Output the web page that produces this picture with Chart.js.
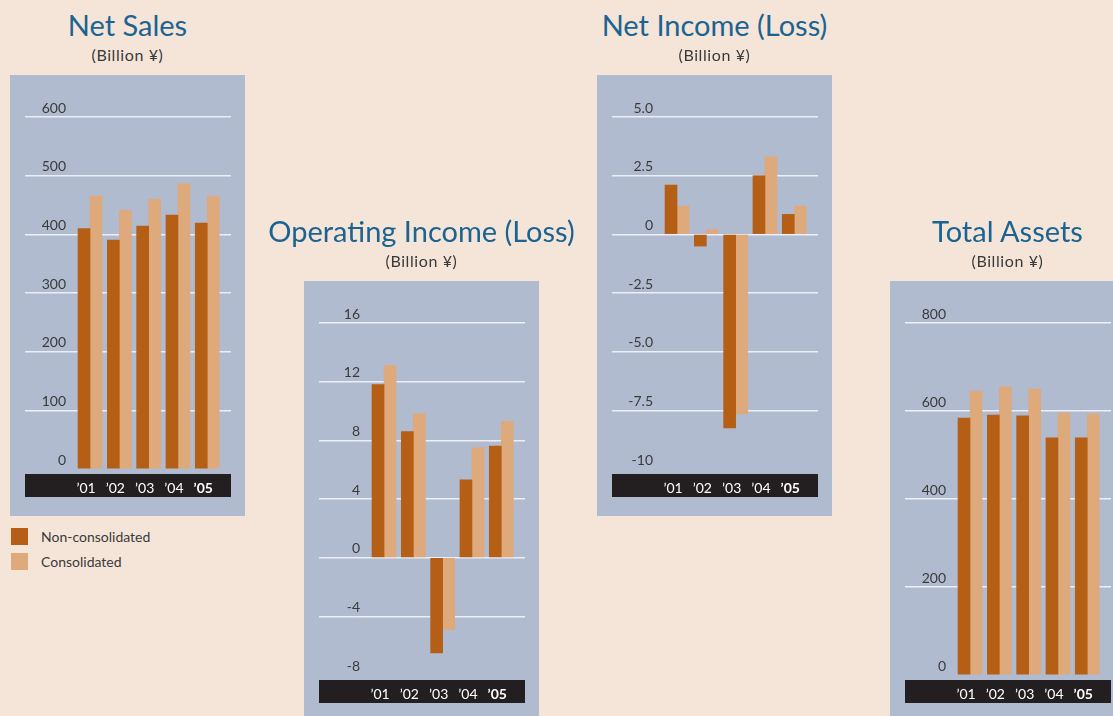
<!DOCTYPE html>
<html>
<head>
<meta charset="utf-8">
<script src="https://cdn.jsdelivr.net/npm/chart.js@4.4.1/dist/chart.umd.min.js"></script>
<style>
  body { margin: 0; width: 1113px; height: 716px; overflow: hidden; background: #f5e5d8; position: relative; font-family: Lato, sans-serif; }
  .panel { position: absolute; width: 235px; height: 441px; }
  .title { position: absolute; left: -80px; width: 395px; top: -68px; line-height: 36px; text-align: center; color: #1b6391; font-size: 29px; white-space: nowrap; }
  .unit { position: absolute; left: 0; width: 235px; top: -30px; line-height: 20px; text-align: center; color: #3a3a3a; font-size: 16px; letter-spacing: 0.6px; }
  canvas { display: block; background: #b0bbcf; }
  .legend { position: absolute; left: 11px; font-size: 14px; color: #3a3a3a; line-height: 17px; }
  .legend span { display: inline-block; width: 17px; height: 17px; vertical-align: top; margin-right: 13px; }
</style>
</head>
<body>

<div class="panel" style="left:10px; top:75px;">
  <div class="title">Net Sales</div>
  <div class="unit">(Billion ¥)</div>
  <canvas id="sales" width="235" height="441"></canvas>
</div>
<div class="panel" style="left:304px; top:281px;">
  <div class="title">Operating Income (Loss)</div>
  <div class="unit">(Billion ¥)</div>
  <canvas id="opIncome" width="235" height="441"></canvas>
</div>
<div class="panel" style="left:597px; top:75px;">
  <div class="title">Net Income (Loss)</div>
  <div class="unit">(Billion ¥)</div>
  <canvas id="netIncome" width="235" height="441"></canvas>
</div>
<div class="panel" style="left:890px; top:281px;">
  <div class="title">Total Assets</div>
  <div class="unit">(Billion ¥)</div>
  <canvas id="assets" width="235" height="441"></canvas>
</div>

<div class="legend" style="top:528px;"><span style="background:#b45f15"></span>Non-consolidated</div>
<div class="legend" style="top:553px;"><span style="background:#dea97b"></span>Consolidated</div>

<script>
const years = ["\u201901", "\u201902", "\u201903", "\u201904", "\u201905"];

const salesNon = [410, 390, 414, 433, 419];
const salesCon = [465, 441, 460, 486, 465];
const salesTicks = [0, 100, 200, 300, 400, 500, 600];
const salesLabels = ["0", "100", "200", "300", "400", "500", "600"];

const opNon = [11.8, 8.6, -6.5, 5.3, 7.6];
const opCon = [13.1, 9.8, -4.9, 7.5, 9.3];
const opTicks = [-8, -4, 0, 4, 8, 12, 16];
const opLabels = ["-8", "-4", "0", "4", "8", "12", "16"];

const niNon = [2.1, -0.5, -8.25, 2.5, 0.85];
const niCon = [1.2, 0.2, -7.65, 3.3, 1.2];
const niTicks = [-10, -7.5, -5, -2.5, 0, 2.5, 5];
const niLabels = ["-10", "-7.5", "-5.0", "-2.5", "0", "2.5", "5.0"];

const assetsNon = [584, 591, 589, 539, 539];
const assetsCon = [645, 655, 650, 595, 593];
const assetsTicks = [0, 200, 400, 600, 800];
const assetsLabels = ["0", "200", "400", "600", "800"];

const darkColor = "#b45f15";
const lightColor = "#dea97b";

// black strip behind the year labels
const bandPlugin = {
    id: "band",
    beforeDraw(chart) {
        const {ctx, chartArea, scales} = chart;
        ctx.save();
        ctx.fillStyle = "#231f20";
        ctx.fillRect(scales.y.left, chartArea.bottom + 5, chartArea.right - scales.y.left, 23);
        ctx.restore();
    }
};

function makeChart(id, tickValues, tickLabels, nonData, conData) {
    new Chart(document.getElementById(id), {
        type: "bar",
        data: {
            datasets: [
                {
                    label: "Non-consolidated",
                    data: nonData.map((v, i) => ({x: i + 1, y: v})),
                    backgroundColor: darkColor,
                    barThickness: 12
                },
                {
                    label: "Consolidated",
                    data: conData.map((v, i) => ({x: i + 1, y: v})),
                    backgroundColor: lightColor,
                    barThickness: 12
                }
            ]
        },
        options: {
            responsive: false,
            animation: false,
            layout: { padding: { left: 15, right: 14, top: 42, bottom: 19 } },
            plugins: {
                legend: { display: false },
                tooltip: { enabled: false }
            },
            scales: {
                x: {
                    type: "linear",
                    offset: false,
                    min: 0.18,
                    max: 5.81,
                    grid: { display: false },
                    border: { display: false },
                    afterBuildTicks: s => { s.ticks = years.map((_, i) => ({value: i + 1})); },
                    afterFit: s => { s.height = 28; },
                    ticks: {
                        color: "#ffffff",
                        padding: 3,
                        labelOffset: -4,
                        autoSkip: false,
                        maxRotation: 0,
                        font: c => ({family: "Lato", size: 14, weight: c.index === 4 ? "bold" : "normal"}),
                        callback: v => years[v - 1]
                    }
                },
                y: {
                    min: tickValues[0],
                    max: tickValues[tickValues.length - 1],
                    afterBuildTicks: s => { s.ticks = tickValues.map(v => ({value: v})); },
                    afterFit: s => { s.width = 41; },
                    border: { display: false },
                    grid: {
                        color: c => (c.tick && c.tick.value === tickValues[0]) ? "rgba(0,0,0,0)" : "#eceff5",
                        lineWidth: 1.5,
                        tickLength: 41
                    },
                    ticks: {
                        padding: -41,
                        labelOffset: -9,
                        color: "#3a3a3a",
                        font: {family: "Lato", size: 14},
                        callback: (v, i) => tickLabels[i]
                    }
                }
            }
        },
        plugins: [bandPlugin]
    });
}

makeChart("sales", salesTicks, salesLabels, salesNon, salesCon);
makeChart("opIncome", opTicks, opLabels, opNon, opCon);
makeChart("netIncome", niTicks, niLabels, niNon, niCon);
makeChart("assets", assetsTicks, assetsLabels, assetsNon, assetsCon);
</script>
</body>
</html>
